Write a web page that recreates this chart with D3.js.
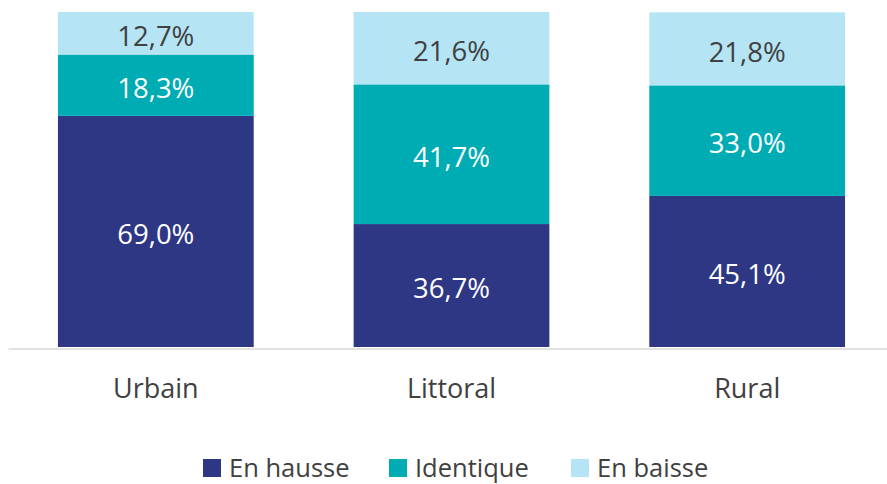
<!DOCTYPE html>
<html>
<head>
<meta charset="utf-8">
<script src="https://cdn.jsdelivr.net/npm/d3@7"></script>
<style>
  body { margin: 0; background: #fff; }
  svg { display: block; font-family: "Open Sans", "Noto Sans", sans-serif; }
</style>
</head>
<body>
<div id="chart"></div>
<script>
(function(){
    const categories = ['Urbain', 'Littoral', 'Rural'];
    const seriesNames = ['En hausse', 'Identique', 'En baisse'];
    const enHausse = [69.0, 36.7, 45.1];
    const identique = [18.3, 41.7, 33.0];
    const enBaisse = [12.7, 21.6, 21.8];
    const colors = ['#2E3784', '#00ACB3', '#B5E5F5'];
    const labelColors = ['#ffffff', '#ffffff', '#404040'];

    const width = 887, height = 484;
    const margin = { top: 12, right: -8, bottom: 137, left: 8 };

    const rows = categories.map((c, i) => ({
        cat: c, 'En hausse': enHausse[i], 'Identique': identique[i], 'En baisse': enBaisse[i]
    }));
    const stack = d3.stack().keys(seriesNames)(rows);

    const svg = d3.select('#chart').append('svg')
        .attr('width', width)
        .attr('height', height);

    const x = d3.scaleBand()
        .domain(categories)
        .range([margin.left, width - margin.right])
        .paddingInner(0.338)
        .paddingOuter(0.169);

    const y = d3.scaleLinear()
        .domain([0, 100])
        .range([height - margin.bottom, margin.top]);

    // bars
    const layers = svg.selectAll('.layer')
        .data(stack)
        .enter().append('g')
        .attr('fill', (d, i) => colors[i]);

    layers.selectAll('rect')
        .data(d => d)
        .enter().append('rect')
        .attr('x', d => x(d.data.cat))
        .attr('y', d => y(d[1]))
        .attr('width', x.bandwidth())
        .attr('height', d => y(d[0]) - y(d[1]));

    // value labels
    stack.forEach((s, i) => {
        svg.append('g').selectAll('text')
            .data(s)
            .enter().append('text')
            .attr('x', d => x(d.data.cat) + x.bandwidth() / 2)
            .attr('y', d => (y(d[0]) + y(d[1])) / 2)
            .attr('dy', '0.46em')
            .attr('text-anchor', 'middle')
            .attr('font-size', '27.5px')
            .attr('fill', labelColors[i])
            .text(d => d3.format('.1f')(d[1] - d[0]).replace('.', ',') + '%');
    });

    // x axis
    const xAxis = svg.append('g')
        .attr('transform', `translate(0,${height - margin.bottom + 1.5})`)
        .call(d3.axisBottom(x).tickSize(0).tickPadding(30));
    xAxis.select('.domain').attr('stroke', '#D9D9D9').attr('stroke-width', 1.5);
    xAxis.selectAll('text')
        .attr('font-size', '27px')
        .attr('font-family', '"Open Sans", "Noto Sans", sans-serif')
        .attr('fill', '#404040');

    // legend
    const legendX = [203, 389, 571];
    const legend = svg.append('g').selectAll('g')
        .data(seriesNames)
        .enter().append('g')
        .attr('transform', (d, i) => `translate(${legendX[i]},459)`);
    legend.append('rect')
        .attr('width', 18).attr('height', 18)
        .attr('fill', (d, i) => colors[i]);
    legend.append('text')
        .attr('x', 26).attr('y', 17.5)
        .attr('font-size', '25.5px')
        .attr('fill', '#404040')
        .text(d => d);
})();
</script>
</body>
</html>
